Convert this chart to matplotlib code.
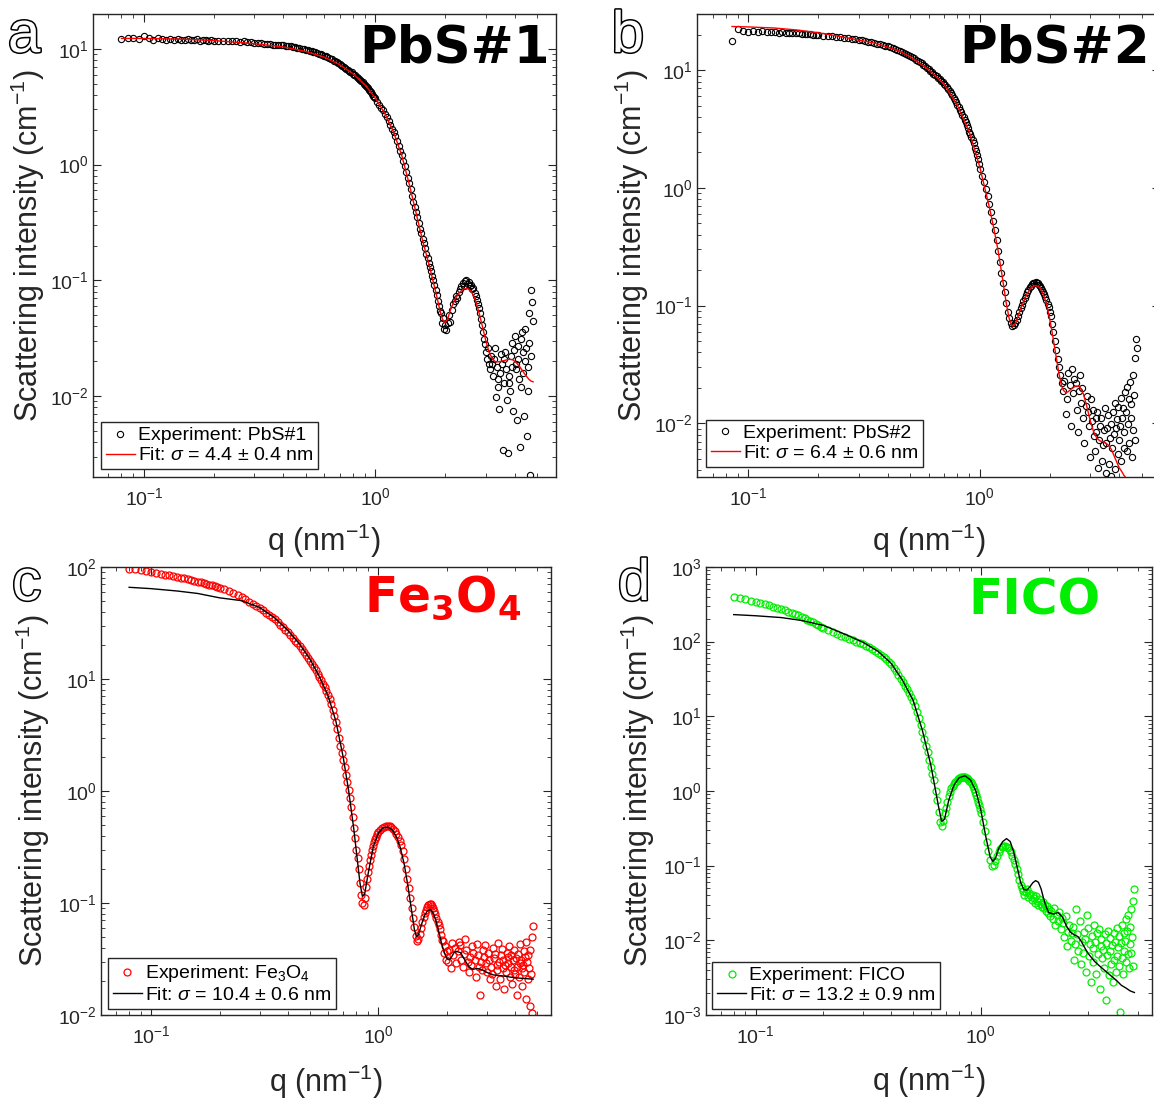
import numpy as np
import matplotlib
matplotlib.use("Agg")
import matplotlib.pyplot as plt
import matplotlib.patheffects as pe
from matplotlib.ticker import LogLocator

plt.rcParams['font.family'] = 'Liberation Sans'
plt.rcParams['mathtext.fontset'] = 'custom'
plt.rcParams['mathtext.rm'] = 'Liberation Sans'
plt.rcParams['mathtext.it'] = 'Liberation Sans:italic'
plt.rcParams['mathtext.bf'] = 'Liberation Sans:bold'

nan = np.nan

# 1. Dane
# q values of the measured curves (nm^-1), shared by the four samples
q_exp = [
    # 0.080 - 0.200
    0.080, 0.085, 0.090, 0.095, 0.100, 0.105, 0.110, 0.115, 0.120, 0.125,
    0.130, 0.135, 0.140, 0.145, 0.150, 0.155, 0.160, 0.165, 0.170, 0.175,
    0.180, 0.185, 0.190, 0.195, 0.200,
    # 0.21 - 0.50
    0.21, 0.22, 0.23, 0.24, 0.25, 0.26, 0.27, 0.28, 0.29, 0.30,
    0.31, 0.32, 0.33, 0.34, 0.35, 0.36, 0.37, 0.38, 0.39, 0.40,
    0.41, 0.42, 0.43, 0.44, 0.45, 0.46, 0.47, 0.48, 0.49, 0.50,
    # 0.51 - 1.00
    0.51, 0.52, 0.53, 0.54, 0.55, 0.56, 0.57, 0.58, 0.59, 0.60,
    0.61, 0.62, 0.63, 0.64, 0.65, 0.66, 0.67, 0.68, 0.69, 0.70,
    0.71, 0.72, 0.73, 0.74, 0.75, 0.76, 0.77, 0.78, 0.79, 0.80,
    0.81, 0.82, 0.83, 0.84, 0.85, 0.86, 0.87, 0.88, 0.89, 0.90,
    0.91, 0.92, 0.93, 0.94, 0.95, 0.96, 0.97, 0.98, 0.99, 1.00,
    # 1.02 - 2.00
    1.02, 1.04, 1.06, 1.08, 1.10, 1.12, 1.14, 1.16, 1.18, 1.20,
    1.22, 1.24, 1.26, 1.28, 1.30, 1.32, 1.34, 1.36, 1.38, 1.40,
    1.42, 1.44, 1.46, 1.48, 1.50, 1.52, 1.54, 1.56, 1.58, 1.60,
    1.62, 1.64, 1.66, 1.68, 1.70, 1.72, 1.74, 1.76, 1.78, 1.80,
    1.82, 1.84, 1.86, 1.88, 1.90, 1.92, 1.94, 1.96, 1.98, 2.00,
    # 2.02 - 4.78
    2.02, 2.05, 2.08, 2.11, 2.14, 2.17, 2.20,
    2.23, 2.26, 2.29, 2.32, 2.35, 2.38, 2.41, 2.44, 2.47, 2.50,
    2.53, 2.56, 2.59, 2.62, 2.65, 2.68, 2.71, 2.74, 2.77, 2.80,
    2.83, 2.86, 2.89, 2.92, 2.95, 2.98, 3.01, 3.04, 3.07, 3.10,
    3.13, 3.16, 3.19, 3.22, 3.25, 3.28, 3.31, 3.34, 3.37, 3.40,
    3.43, 3.46, 3.49, 3.52, 3.55, 3.58, 3.61, 3.64, 3.67, 3.70,
    3.73, 3.76, 3.79, 3.82, 3.85, 3.88, 3.91, 3.94, 3.97, 4.00,
    4.03, 4.06, 4.09, 4.12, 4.15, 4.18, 4.21, 4.24, 4.27, 4.30,
    4.33, 4.36, 4.39, 4.42, 4.45, 4.48, 4.51, 4.54, 4.57, 4.60,
    4.63, 4.66, 4.69, 4.72, 4.75, 4.78,
]

# PbS#1
I_pbs1 = [
    12.1, 12.3, 12.5, 12.2, 12.8, 12.4, 12.0, 12.3, 12.1, 11.9,
    12.2, 12.0, 12.1, 11.9, 12.0, 12.2, 11.9, 12.0, 12.1, 11.8,
    12.0, 11.9, 11.7, 11.9, 11.8,
    11.7, 11.8, 11.6, 11.7, 11.6, 11.5, 11.6, 11.4, 11.5, 11.3,
    11.3, 11.2, 11.1, 11.1, 11.0, 10.9, 10.9, 10.8, 10.7, 10.7,
    10.6, 10.5, 10.5, 10.4, 10.3, 10.2, 10.1, 10.0, 9.95, 9.85,
    9.8, 9.6, 9.6, 9.4, 9.35, 9.2, 9.1, 8.95, 8.9, 8.7,
    8.65, 8.45, 8.35, 8.2, 8.1, 7.9, 7.8, 7.65, 7.55, 7.35,
    7.25, 7.1, 7.0, 6.8, 6.75, 6.6, 6.45, 6.35, 6.25, 6.1,
    6.0, 5.9, 5.75, 5.65, 5.5, 5.4, 5.25, 5.15, 5.0, 4.9,
    4.8, 4.65, 4.55, 4.45, 4.3, 4.2, 4.05, 3.95, 3.85, 3.75,
    3.5, 3.3, 3.1, 2.95, 2.75, 2.6, 2.4, 2.2, 2.05, 1.9,
    1.75, 1.6, 1.45, 1.32, 1.2, 1.08, 0.97, 0.86, 0.77, 0.69,
    0.61, 0.54, 0.48, 0.43, 0.39, 0.35, 0.31, 0.28, 0.255, 0.23,
    0.21, 0.19, 0.17, 0.155, 0.14, 0.13, 0.12, 0.11, 0.10, 0.091,
    0.083, 0.075, 0.066, 0.06, 0.054, 0.052, 0.043, 0.047, 0.038, 0.041,
    0.037, 0.043, 0.05, 0.044, 0.056, 0.062, 0.066,
    0.074, 0.071, 0.08, 0.085, 0.089, 0.094, 0.09, 0.098, 0.1, 0.093,
    0.096, 0.089, 0.092, 0.084, 0.086, 0.078, 0.074, 0.068, 0.063, 0.058,
    0.052, 0.046, 0.041, 0.036, 0.031, 0.028, 0.024, 0.021, 0.026, 0.019,
    0.017, 0.022, 0.019, 0.015, 0.021, 0.026, 0.0098, 0.018, 0.014, 0.012,
    0.0077, 0.016, 0.023, 0.019, 0.0034, 0.013, 0.021, 0.024, 0.017, 0.0092,
    0.0032, 0.015, 0.013, 0.011, 0.022, 0.029, 0.018, 0.0074, 0.025, 0.033,
    0.019, 0.017, 0.0062, 0.027, 0.021, 0.014, 0.0036, 0.012, 0.031, 0.036,
    0.024, 0.016, 0.0068, 0.02, 0.038, 0.026, 0.0045, 0.011, 0.018, 0.029,
    0.052, 0.0021, 0.022, 0.083, 0.065, 0.045,
]
q_fit_pbs1 = [0.08, 0.1, 0.15, 0.2, 0.3, 0.4, 0.5, 0.6, 0.7, 0.8,
              0.9, 1.0, 1.1, 1.2, 1.3, 1.4, 1.5, 1.6, 1.7, 1.8,
              1.85, 1.9, 1.95, 2.0, 2.05, 2.1, 2.2, 2.3, 2.4, 2.5,
              2.6, 2.7, 2.8, 2.9, 3.0, 3.1, 3.2, 3.3, 3.4, 3.5,
              3.6, 3.7, 3.8, 3.9, 4.0, 4.1, 4.2, 4.3, 4.4, 4.5,
              4.6, 4.7, 4.8]
I_fit_pbs1 = [12.3, 12.3, 12.1, 11.8, 11.1, 10.4, 9.5, 8.5, 7.3, 6.1,
              4.9, 3.75, 2.75, 1.9, 1.2, 0.68, 0.38, 0.22, 0.14, 0.088,
              0.07, 0.055, 0.046, 0.043, 0.046, 0.054, 0.068, 0.078, 0.084, 0.085,
              0.08, 0.068, 0.053, 0.04, 0.03, 0.024, 0.021, 0.0198, 0.0198, 0.02,
              0.0203, 0.0206, 0.0208, 0.0207, 0.02, 0.019, 0.018, 0.0168, 0.0157, 0.0148,
              0.014, 0.0135, 0.0133]

# PbS#2
I_pbs2 = [
    nan, 17.8, 22.4, 21.5, 21.3, 21.6, 21.0, 21.4, 21.2, 20.9,
    21.1, 20.8, 21.0, 20.7, 20.8, 20.6, 20.5, 20.6, 20.4, 20.3,
    20.2, 20.2, 20.0, 20.0, 19.9,
    19.7, 19.5, 19.4, 19.2, 19.0, 18.8, 18.7, 18.5, 18.3, 18.1,
    17.9, 17.7, 17.5, 17.3, 17.1, 16.8, 16.6, 16.4, 16.1, 15.9,
    15.6, 15.4, 15.1, 14.9, 14.6, 14.3, 14.1, 13.8, 13.5, 13.2,
    12.9, 12.6, 12.3, 12.0, 11.7, 11.4, 11.1, 10.8, 10.5, 10.2,
    9.9, 9.6, 9.35, 9.1, 8.85, 8.6, 8.4, 8.15, 7.9, 7.7,
    7.45, 7.2, 6.9, 6.6, 6.35, 6.1, 5.85, 5.6, 5.35, 5.1,
    4.85, 4.6, 4.4, 4.2, 4.0, 3.8, 3.6, 3.4, 3.2, 3.0,
    2.85, 2.7, 2.55, 2.4, 2.2, 2.05, 1.9, 1.75, 1.6, 1.45,
    1.27, 1.12, 0.98, 0.85, 0.73, 0.62, 0.52, 0.44, 0.36, 0.29,
    0.235, 0.19, 0.155, 0.13, 0.105, 0.089, 0.078, 0.071, 0.067, 0.068,
    0.071, 0.075, 0.081, 0.088, 0.095, 0.102, 0.11, 0.117, 0.123, 0.13,
    0.137, 0.143, 0.148, 0.152, 0.155, 0.157, 0.158, 0.157, 0.155, 0.151,
    0.147, 0.142, 0.137, 0.131, 0.125, 0.118, 0.111, 0.104, 0.097, 0.089,
    0.082, 0.07, 0.06, 0.05, 0.042, 0.035, 0.03,
    0.026, 0.022, 0.019, 0.023, 0.012, 0.016, 0.027, 0.021, 0.0095, 0.029,
    0.018, 0.024, 0.022, 0.013, 0.0085, 0.019, 0.026, 0.015, 0.02, 0.011,
    0.0068, 0.014, 0.017, 0.0125, 0.0095, 0.0052, 0.016, 0.0105, 0.013, 0.0078,
    0.0058, 0.0112, 0.0085, 0.0125, 0.0042, 0.0072, 0.0095, 0.011, 0.0048, 0.0065,
    0.0088, 0.0135, 0.0038, 0.0068, 0.0092, 0.0118, 0.0045, 0.0075, 0.0098, 0.0036,
    0.0062, 0.0125, 0.0082, 0.015, 0.0041, 0.0092, 0.0108, 0.0055, 0.0138, 0.0072,
    0.0095, 0.0165, 0.0048, 0.0112, 0.0135, 0.0062, 0.0085, 0.0185, 0.0125, 0.0058,
    0.0205, 0.0098, 0.016, 0.0068, 0.0225, 0.0112, 0.0145, 0.0052, 0.026, 0.0088,
    0.0175, 0.0072, 0.036, 0.052, 0.044, nan,
]
q_fit_pbs2 = [0.085, 0.1, 0.13, 0.16, 0.2, 0.25, 0.3, 0.35, 0.4, 0.45,
              0.5, 0.6, 0.7, 0.8, 0.9, 1.0, 1.1, 1.15, 1.2, 1.25,
              1.3, 1.34, 1.38, 1.42, 1.46, 1.5, 1.55, 1.6, 1.65, 1.7,
              1.75, 1.8, 1.85, 1.9, 1.95, 2.0, 2.05, 2.1, 2.15, 2.2,
              2.25, 2.3, 2.35, 2.4, 2.5, 2.6, 2.7, 2.8, 2.9, 3.0,
              3.1, 3.2, 3.3, 3.4, 3.5, 3.6, 3.7, 3.8, 3.9, 4.0,
              4.1, 4.2, 4.3, 4.4, 4.5, 4.6]
I_fit_pbs2 = [23.5, 23.3, 22.8, 22.0, 20.8, 19.3, 18.0, 17.0, 15.7, 14.5,
              13.0, 10.1, 7.6, 5.0, 3.0, 1.5, 0.68, 0.45, 0.29, 0.175,
              0.105, 0.077, 0.067, 0.07, 0.08, 0.094, 0.11, 0.126, 0.138, 0.146,
              0.148, 0.144, 0.134, 0.118, 0.099, 0.078, 0.06, 0.045, 0.034, 0.026,
              0.021, 0.019, 0.0183, 0.0185, 0.0198, 0.0208, 0.0205, 0.0178, 0.0138, 0.0105,
              0.0085, 0.0075, 0.0071, 0.007, 0.0068, 0.0065, 0.006, 0.0053, 0.0047, 0.0042,
              0.0039, 0.0036, 0.0034, 0.0032, 0.003, 0.0028]

# Fe3O4
I_fe3o4 = [
    96.5, 95, 93.5, 92, 90, 88.5, 87, 85.5, 84, 82.5,
    81.5, 80, 79, 77.5, 76.5, 75, 74, 73, 71.5, 70.5,
    69.5, 68.5, 67, 66, 65,
    63, 61, 58.5, 56, 53.5, 51.5, 49, 47, 45, 43,
    41, 39, 37.5, 35.5, 34, 32.5, 30.5, 29, 27.5, 26,
    24.5, 23, 22, 21, 19.8, 18.6, 17.5, 16.5, 15.5, 14.5,
    13.6, 12.7, 11.9, 11.1, 10.4, 9.7, 9.0, 8.4, 7.8, 7.2,
    6.6, 6.0, 5.3, 4.7, 4.1, 3.6, 3.0, 2.5, 2.2, 1.9,
    1.65, 1.4, 1.2, 1.03, 0.87, 0.72, 0.59, 0.47, 0.38, 0.3,
    0.25, 0.2, 0.15, 0.118, 0.1, 0.096, 0.11, 0.14, 0.165, 0.19,
    0.215, 0.24, 0.27, 0.3, 0.325, 0.35, 0.37, 0.39, 0.41, 0.43,
    0.45, 0.47, 0.48, 0.49, 0.49, 0.485, 0.475, 0.46, 0.44, 0.415,
    0.39, 0.36, 0.33, 0.29, 0.245, 0.2, 0.165, 0.135, 0.11, 0.09,
    0.074, 0.061, 0.051, 0.046, 0.048, 0.053, 0.06, 0.068, 0.075, 0.081,
    0.087, 0.092, 0.096, 0.098, 0.097, 0.094, 0.09, 0.085, 0.08, 0.074,
    0.068, 0.063, 0.058, 0.052, 0.047, 0.046, 0.036, 0.041, 0.031, 0.037,
    0.03, 0.038, 0.026, 0.044, 0.034, 0.04, 0.029,
    0.037, 0.045, 0.042, 0.031, 0.027, 0.035, 0.048, 0.038, 0.03, 0.024,
    0.033, 0.028, 0.041, 0.036, 0.031, 0.022, 0.043, 0.034, 0.027, 0.015,
    0.03, 0.025, 0.038, 0.033, 0.042, 0.029, 0.024, 0.036, 0.031, 0.021,
    0.027, 0.023, 0.04, 0.032, 0.035, 0.018, 0.028, 0.025, 0.044, 0.03,
    0.021, 0.034, 0.039, 0.031, 0.026, 0.017, 0.028, 0.024, 0.036, 0.033,
    0.029, 0.041, 0.022, 0.034, 0.027, 0.019, 0.031, 0.038, 0.025, 0.023,
    0.032, 0.015, 0.027, 0.035, 0.022, 0.029, 0.043, 0.031, 0.026, 0.018,
    0.028, 0.024, 0.037, 0.033, 0.014, 0.045, 0.03, 0.021, 0.034, 0.026,
    0.012, 0.038, 0.023, 0.05, 0.0105, 0.062,
]
q_fit_fe3o4 = [0.08, 0.1, 0.13, 0.16, 0.2, 0.25, 0.3, 0.35, 0.4, 0.45,
               0.5, 0.55, 0.6, 0.65, 0.7, 0.74, 0.78, 0.81, 0.83, 0.85,
               0.87, 0.9, 0.95, 1.0, 1.05, 1.1, 1.15, 1.2, 1.25, 1.3,
               1.35, 1.4, 1.44, 1.47, 1.5, 1.55, 1.6, 1.65, 1.7, 1.75,
               1.8, 1.85, 1.9, 1.95, 2.0, 2.05, 2.1, 2.15, 2.2, 2.3,
               2.4, 2.5, 2.6, 2.7, 2.8, 2.9, 3.0, 3.2, 3.4, 3.6,
               3.8, 4.0, 4.2, 4.4, 4.6, 4.8]
I_fit_fe3o4 = [65.8, 64, 61, 58, 53, 50, 43.5, 35, 27, 20.5,
               15, 10.5, 7.1, 4.2, 2.0, 1.0, 0.45, 0.23, 0.15, 0.115,
               0.12, 0.18, 0.32, 0.42, 0.47, 0.475, 0.45, 0.39, 0.31, 0.22,
               0.14, 0.085, 0.058, 0.05, 0.052, 0.065, 0.078, 0.086, 0.087, 0.08,
               0.067, 0.054, 0.043, 0.036, 0.032, 0.031, 0.033, 0.036, 0.037, 0.036,
               0.031, 0.027, 0.0255, 0.026, 0.0257, 0.025, 0.024, 0.0228, 0.0225, 0.0222,
               0.0218, 0.0215, 0.0213, 0.0212, 0.021, 0.0209]

# FICO
I_fico = [
    398, 382, 368, 355, 342, 330, 318, 306, 295, 284,
    272, 262, 252, 243, 234, 225, 216, 205, 197, 189,
    181, 173, 166, 159, 153,
    143, 134, 127, 120, 114, 109, 104, 100, 96, 92,
    88, 84, 80, 75, 70.5, 66, 62, 58, 54, 49.5,
    45, 40.5, 36, 32, 28.5, 25.5, 23, 20.5, 18, 16,
    13.6, 11.5, 9.4, 7.7, 6.2, 5.0, 4.0, 3.3, 2.6, 2.1,
    1.7, 1.4, 1.0, 0.75, 0.52, 0.38, 0.34, 0.4, 0.5, 0.6,
    0.72, 0.85, 0.97, 1.08, 1.17, 1.25, 1.32, 1.38, 1.43, 1.47,
    1.5, 1.52, 1.53, 1.54, 1.53, 1.51, 1.48, 1.44, 1.38, 1.32,
    1.24, 1.15, 1.06, 0.98, 0.89, 0.8, 0.72, 0.64, 0.57, 0.5,
    0.38, 0.29, 0.21, 0.155, 0.12, 0.1, 0.102, 0.115, 0.135, 0.152,
    0.165, 0.175, 0.182, 0.185, 0.18, 0.172, 0.162, 0.15, 0.135, 0.12,
    0.105, 0.09, 0.077, 0.065, 0.055, 0.05, 0.046, 0.041, 0.044, 0.048,
    0.038, 0.043, 0.04, 0.035, 0.041, 0.037, 0.032, 0.039, 0.034, 0.03,
    0.036, 0.031, 0.028, 0.033, 0.027, 0.03, 0.025, 0.029, 0.023, 0.026,
    0.021, 0.025, 0.019, 0.027, 0.016, 0.022, 0.018,
    0.024, 0.014, 0.02, 0.017, 0.011, 0.021, 0.0085, 0.013, 0.016, 0.0098,
    0.0125, 0.015, 0.0055, 0.009, 0.026, 0.012, 0.0072, 0.018, 0.0048, 0.0095,
    0.0068, 0.013, 0.0105, 0.0038, 0.0215, 0.0145, 0.0062, 0.009, 0.0028, 0.0115,
    0.0078, 0.0052, 0.016, 0.0095, 0.0035, 0.0125, 0.0066, 0.014, 0.0022, 0.0085,
    0.0105, 0.0058, 0.0075, 0.0042, 0.012, 0.0016, 0.0092, 0.0064, 0.0135, 0.0034,
    0.0071, 0.0108, 0.0048, 0.0087, 0.0028, 0.0125, 0.0055, 0.0096, 0.0038, 0.0062,
    0.0145, 0.0082, 0.0045, 0.0115, 0.0011, 0.0092, 0.0058, 0.016, 0.0035, 0.0072,
    0.0125, 0.0098, 0.0052, 0.019, 0.0135, 0.0065, 0.022, 0.0042, 0.015, 0.0088,
    0.0068, 0.026, 0.011, 0.034, 0.0045, 0.048,
]
q_fit_fico = [0.08, 0.1, 0.13, 0.16, 0.2, 0.25, 0.3, 0.35, 0.4, 0.45,
              0.5, 0.55, 0.6, 0.63, 0.65, 0.67, 0.69, 0.72, 0.76, 0.8,
              0.85, 0.9, 0.95, 1.0, 1.05, 1.1, 1.13, 1.16, 1.2, 1.25,
              1.3, 1.35, 1.4, 1.45, 1.5, 1.55, 1.6, 1.65, 1.7, 1.75,
              1.8, 1.85, 1.9, 1.95, 2.0, 2.1, 2.2, 2.3, 2.4, 2.5,
              2.6, 2.7, 2.8, 2.9, 3.0, 3.2, 3.4, 3.6, 3.8, 4.0,
              4.2, 4.4, 4.6, 4.8]
I_fit_fico = [230, 222, 210, 192, 165, 125, 98, 74, 51, 30,
              16.5, 6.5, 2.2, 1.0, 0.6, 0.39, 0.42, 0.75, 1.2, 1.5,
              1.6, 1.4, 1.0, 0.55, 0.25, 0.13, 0.114, 0.125, 0.17, 0.21,
              0.23, 0.21, 0.15, 0.095, 0.06, 0.048, 0.047, 0.052, 0.059, 0.063,
              0.06, 0.049, 0.036, 0.028, 0.0235, 0.0225, 0.0235, 0.0205, 0.0155, 0.0128,
              0.0118, 0.0112, 0.0095, 0.0078, 0.0066, 0.0052, 0.0044, 0.0038, 0.0033, 0.0029,
              0.0025, 0.0023, 0.0021, 0.002]

# 2. Wykres - figure
red = '#ff0000'
green = '#00ee00'
grey = '#262626'

fig = plt.figure(figsize=(11.54, 11.03), dpi=100)
ax_a = fig.add_axes([0.0802, 0.5675, 0.4012, 0.4198])
ax_b = fig.add_axes([0.6040, 0.5675, 0.4012, 0.4198])
ax_c = fig.add_axes([0.0873, 0.0798, 0.3902, 0.4062])
ax_d = fig.add_axes([0.6114, 0.0798, 0.3869, 0.4062])


def style_axis(ax, xlim, ylim, xlab_y, ylab_x):
    ax.set_xscale('log')
    ax.set_yscale('log')
    ax.set_xlim(xlim)
    ax.set_ylim(ylim)
    ax.yaxis.set_major_locator(LogLocator(base=10, numticks=15))
    ax.yaxis.set_minor_locator(LogLocator(base=10, subs=np.arange(2, 10), numticks=15))
    ax.tick_params(which='both', direction='in', top=True, right=True,
                   colors=grey, labelsize=14)
    ax.tick_params(which='major', length=6, width=0.8)
    ax.tick_params(which='minor', length=3, width=0.6)
    ax.tick_params(axis='x', which='major', pad=7)
    ax.tick_params(axis='y', which='major', pad=3)
    for s in ax.spines.values():
        s.set_color(grey)
        s.set_linewidth(1.0)
    ax.set_xlabel('q (nm$^{-1}$)', fontsize=22, color=grey)
    ax.set_ylabel('Scattering intensity (cm$^{-1}$)', fontsize=22, color=grey)
    ax.xaxis.set_label_coords(0.5, xlab_y)
    ax.yaxis.set_label_coords(ylab_x, 0.5)


def add_legend(ax, x0, y0):
    leg = ax.legend(loc='lower left', bbox_to_anchor=(x0, y0), borderaxespad=0,
                    fontsize=14, fancybox=False, edgecolor=grey, framealpha=1,
                    handlelength=1.5, handletextpad=0.15, borderpad=0.25,
                    labelspacing=0.12, numpoints=1)
    leg.get_frame().set_linewidth(1.0)


# a - PbS#1
ax_a.plot(q_exp, I_pbs1, 'o', mfc='none', mec='black', ms=4.5, mew=0.8,
          label='Experiment: PbS#1')
ax_a.plot(q_fit_pbs1, I_fit_pbs1, '-', color=red, lw=1.0,
          label='Fit: $\\sigma$ = 4.4 ± 0.4 nm')
style_axis(ax_a, (0.06, 6), (0.002, 20), -0.097, -0.098)
add_legend(ax_a, 0.018, 0.017)
ax_a.text(0.988, 0.896, 'PbS#1', transform=ax_a.transAxes, ha='right', va='baseline',
          fontsize=37, fontweight='bold', family='DejaVu Sans', color='black')

# b - PbS#2
ax_b.plot(q_exp, I_pbs2, 'o', mfc='none', mec='black', ms=4.5, mew=0.8,
          label='Experiment: PbS#2')
ax_b.plot(q_fit_pbs2, I_fit_pbs2, '-', color=red, lw=1.0,
          label='Fit: $\\sigma$ = 6.4 ± 0.6 nm')
style_axis(ax_b, (0.06, 6), (0.0035, 30), -0.097, -0.099)
add_legend(ax_b, 0.019, 0.022)
ax_b.text(0.978, 0.896, 'PbS#2', transform=ax_b.transAxes, ha='right', va='baseline',
          fontsize=37, fontweight='bold', family='DejaVu Sans', color='black')

# c - Fe3O4
ax_c.plot(q_exp, I_fe3o4, 'o', mfc='none', mec=red, ms=5, mew=0.9,
          label='Experiment: Fe$_3$O$_4$')
ax_c.plot(q_fit_fe3o4, I_fit_fe3o4, '-', color='black', lw=1.0,
          label='Fit: $\\sigma$ = 10.4 ± 0.6 nm')
style_axis(ax_c, (0.06, 5.75), (0.01, 100), -0.107, -0.108)
add_legend(ax_c, 0.016, 0.013)
ax_c.text(0.934, 0.90, r'$\mathdefault{Fe_3O_4}$', transform=ax_c.transAxes,
          ha='right', va='baseline', fontsize=35, fontweight='bold',
          family='DejaVu Sans', color=red)

# d - FICO
ax_d.plot(q_exp, I_fico, 'o', mfc='none', mec=green, ms=5, mew=0.9,
          label='Experiment: FICO')
ax_d.plot(q_fit_fico, I_fit_fico, '-', color='black', lw=1.0,
          label='Fit: $\\sigma$ = 13.2 ± 0.9 nm')
style_axis(ax_d, (0.06, 5.75), (0.001, 1000), -0.105, -0.109)
add_legend(ax_d, 0.015, 0.013)
ax_d.text(0.8835, 0.893, 'FICO', transform=ax_d.transAxes, ha='right', va='baseline',
          fontsize=36, fontweight='bold', family='DejaVu Sans', color=green)

# panel letters, hollow
for letter, x, y in [('a', 0.0069, 0.9529), ('b', 0.530, 0.9529),
                     ('c', 0.0104, 0.456), ('d', 0.5355, 0.456)]:
    fig.text(x, y, letter, fontsize=42, color='white', va='baseline', ha='left',
             path_effects=[pe.withStroke(linewidth=2.2, foreground='black')])

fig.savefig('out.png', dpi=100, facecolor='white')
